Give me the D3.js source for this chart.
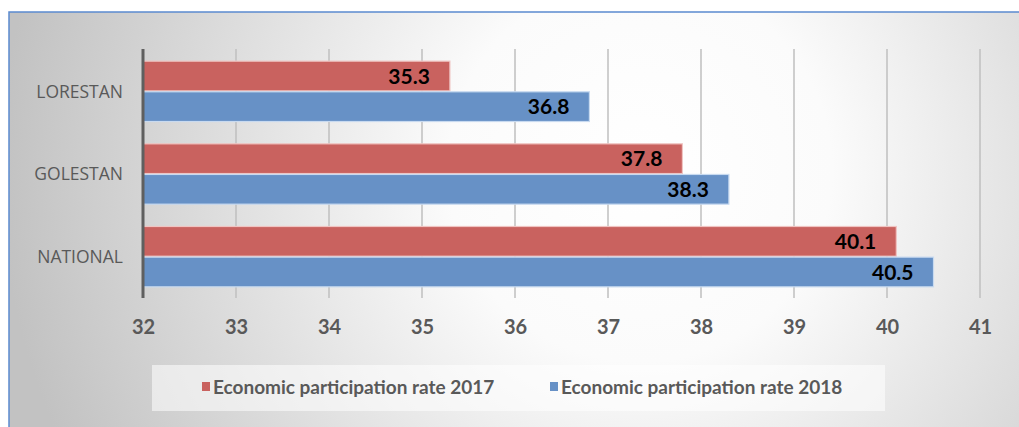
<!DOCTYPE html>
<html><head><meta charset="utf-8">
<script src="https://cdn.jsdelivr.net/npm/d3@7"></script>
<style>html,body{margin:0;padding:0;background:#fff;overflow:hidden}</style>
</head><body>
<svg id="c" width="1019" height="427"></svg>
<script>
const categories = ["LORESTAN", "GOLESTAN", "NATIONAL"];
const series2017 = [35.3, 37.8, 40.1];
const series2018 = [36.8, 38.3, 40.5];
const seriesNames = ["Economic participation rate 2017", "Economic participation rate 2018"];
const xTicks = [32, 33, 34, 35, 36, 37, 38, 39, 40, 41];

const svg = d3.select("#c");
const defs = svg.append("defs");
const rg = defs.append("radialGradient").attr("id","bg").attr("gradientUnits","userSpaceOnUse")
  .attr("cx",640).attr("cy",170).attr("r",640);
rg.append("stop").attr("offset",0).attr("stop-color","#ffffff");
rg.append("stop").attr("offset",0.3).attr("stop-color","#fbfbfb");
rg.append("stop").attr("offset",1).attr("stop-color","#c2c2c2");

svg.append("rect").attr("x",9).attr("y",12).attr("width",1020).attr("height",430)
  .attr("fill","url(#bg)").attr("stroke","#5b8bcf").attr("stroke-width",1.5);

const x = d3.scaleLinear().domain([32,41]).range([143,980]);
const y0 = d3.scaleBand().domain(categories).range([50,298]).paddingInner(0.27).paddingOuter(0.135);
const y1 = d3.scaleBand().domain([0,1]).range([0,y0.bandwidth()]).paddingInner(0.03);

// gridlines
svg.append("g").selectAll("line").data(xTicks.slice(1)).join("line")
  .attr("x1",d=>x(d)).attr("x2",d=>x(d)).attr("y1",49).attr("y2",298)
  .attr("stroke","#bfbfbf").attr("stroke-width",1.5);

const data = categories.map((c,i)=>({c, v:[series2017[i], series2018[i]]}));
const fills = ["#c9625f","#6791c6"];
const strokes = ["#f0c4c2","#c8daf0"];

const g = svg.append("g");
data.forEach(d=>{
  d.v.forEach((v,j)=>{
    const yy = y0(d.c)+y1(j);
    g.append("rect").attr("x",x(32)).attr("y",yy).attr("width",x(v)-x(32)).attr("height",y1.bandwidth())
      .attr("fill",fills[j]).attr("stroke",strokes[j]).attr("stroke-width",1.2);
    g.append("text").attr("x",x(v)-20).attr("y",yy+y1.bandwidth()/2).attr("dy","0.37em")
      .attr("text-anchor","end").attr("font-family","Lato, sans-serif").attr("font-weight","bold")
      .attr("font-size",21).attr("fill","#000").text(v.toFixed(1));
  });
});

// axis line
svg.append("line").attr("x1",x(32)).attr("x2",x(32)).attr("y1",49).attr("y2",298)
  .attr("stroke","#5f5f5f").attr("stroke-width",3);

// category labels
svg.append("g").selectAll("text").data(categories).join("text")
  .attr("x",123).attr("y",d=>y0(d)+y0.bandwidth()/2).attr("dy","0.36em")
  .attr("text-anchor","end").attr("font-family","'Open Sans', sans-serif").attr("font-size",17.5)
  .attr("fill","#595959").text(d=>d);

// x axis labels
const xa = svg.append("g").attr("transform","translate(0,298)")
  .call(d3.axisBottom(x).tickValues(xTicks).tickSize(0).tickPadding(22).tickFormat(d3.format("d")));
xa.select(".domain").remove();
xa.selectAll("text").attr("font-family","Lato, sans-serif").attr("font-weight","bold")
  .attr("font-size",20).attr("fill","#595959");

// legend
svg.append("rect").attr("x",152).attr("y",365).attr("width",733).attr("height",46)
  .attr("fill","#ffffff").attr("fill-opacity",0.55);
const legX = [202, 550];
seriesNames.forEach((n,j)=>{
  svg.append("rect").attr("x",legX[j]).attr("y",382).attr("width",8).attr("height",9).attr("fill",fills[j]);
  svg.append("text").attr("x",legX[j]+11).attr("y",387).attr("dy","0.36em")
    .attr("font-family","Lato, sans-serif").attr("font-weight","bold").attr("font-size",19)
    .attr("fill","#595959").text(n);
});
</script>
</body></html>
